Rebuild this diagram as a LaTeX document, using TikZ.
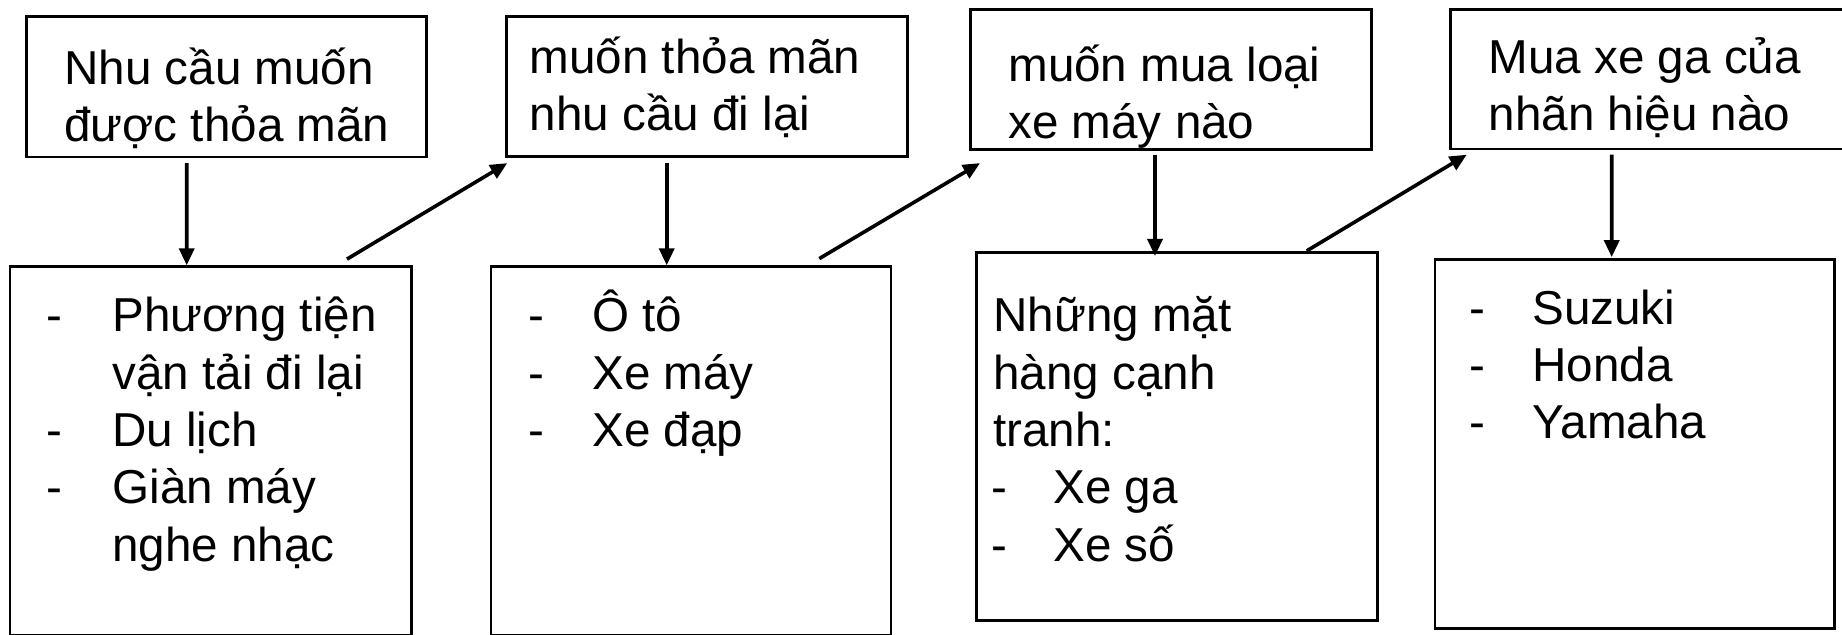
\documentclass[tikz,border=0pt]{standalone}
\usepackage{fontspec}
\setmainfont{Liberation Sans}
\usetikzlibrary{calc,arrows.meta}
\begin{document}
\begin{tikzpicture}[x=0.5pt,y=-0.5pt,
  box/.style={draw, line width=1.4pt, inner sep=0pt},
  txt/.style={anchor=base west, inner sep=0pt, font=\fontsize{23.8}{28.65}\selectfont},
  arr/.style={line width=1.8pt, -{Triangle[length=8.5pt,width=7.5pt]}}]
\useasboundingbox (0,0) rectangle (1842,634);
\fill[white] (0,0) rectangle (1842,634);
\clip (0,0) rectangle (1842,634);
% top boxes
\node[box, minimum width=200.15pt, minimum height=70.15pt] (A) at (226.55,86.85) {};
\node[box, minimum width=200.3pt, minimum height=70pt] (B) at (707,86.7) {};
\node[box, minimum width=200.5pt, minimum height=70pt] (C) at (1171.2,79.3) {};
\node[box, minimum width=200.5pt, minimum height=69.85pt] (E) at (1651.2,79.15) {};
% bottom boxes
\node[box, minimum width=200.85pt, minimum height=184.25pt] (D1) at (210.85,450.95) {};
\node[box, minimum width=200pt, minimum height=184.25pt] (D2) at (691,450.95) {};
\node[box, minimum width=200.3pt, minimum height=184.2pt] (D3) at (1177,436.5) {};
\node[box, minimum width=199.65pt, minimum height=184.4pt] (D4) at (1634.65,443.9) {};
% texts in top boxes
\node[txt] (A1) at (64,84) {Nhu cầu muốn};
\node[txt] (A2) at (64,141) {được thỏa mãn};
\node[txt] (B1) at (529.3,73.3) {muốn thỏa mãn};
\node[txt] (B2) at (529.3,130) {nhu cầu đi lại};
\node[txt] (C1) at (1008,81) {muốn mua loại};
\node[txt] (C2) at (1008,138.3) {xe máy nào};
\node[txt] (E1) at (1488.3,73.3) {Mua xe ga của};
\node[txt] (E2) at (1488.3,130) {nhãn hiệu nào};
% D1
\node[txt] (D1d1) at (46,331.7) {-};
\node[txt] (D1a) at (112,331.7) {Phương tiện};
\node[txt] (D1b) at (112,389) {vận tải đi lại};
\node[txt] (D1d2) at (46,446.3) {-};
\node[txt] (D1c) at (112,446.3) {Du lịch};
\node[txt] (D1d3) at (46,503.6) {-};
\node[txt] (D1e) at (112,503.6) {Giàn máy};
\node[txt] (D1f) at (112,561) {nghe nhạc};
% D2
\node[txt] (D2d1) at (528,331.7) {-};
\node[txt] (D2a) at (592,331.7) {Ô tô};
\node[txt] (D2d2) at (528,389) {-};
\node[txt] (D2b) at (592,389) {Xe máy};
\node[txt] (D2d3) at (528,446.3) {-};
\node[txt] (D2c) at (592,446.3) {Xe đạp};
% D3
\node[txt] (D3a) at (993,331.7) {Những mặt};
\node[txt] (D3b) at (993,389) {hàng cạnh};
\node[txt] (D3c) at (993,446.3) {tranh:};
\node[txt] (D3d1) at (991,503.6) {-};
\node[txt] (D3d) at (1053,503.6) {Xe ga};
\node[txt] (D3d2) at (991,561) {-};
\node[txt] (D3e) at (1053,561) {Xe số};
% D4
\node[txt] (D4d1) at (1469,324) {-};
\node[txt] (D4a) at (1532,324) {Suzuki};
\node[txt] (D4d2) at (1469,381.3) {-};
\node[txt] (D4b) at (1532,381.3) {Honda};
\node[txt] (D4d3) at (1469,438.6) {-};
\node[txt] (D4c) at (1532,438.6) {Yamaha};
% connectors
\draw[arr] ($(A.south)+(-39.85,4.7)$) -- ($(D1.north)+(-24.15,0)$);
\draw[arr] ($(D1.north)+(136.15,-6.2)$) -- ($(B.south)+(-199.7,5)$);
\draw[arr] ($(B.south)+(-40.3,5)$) -- ($(D2.north)+(-24.3,0)$);
\draw[arr] ($(D2.north)+(128.3,-6.7)$) -- ($(C.south)+(-191.2,12.4)$);
\draw[arr] ($(C.south)+(-16.2,4)$) -- ($(D3.north)+(-22,5)$);
\draw[arr] ($(D3.north)+(129.7,0)$) -- ($(E.south)+(-184.5,4.3)$);
\draw[arr] ($(E.south)+(-39.5,4.3)$) -- ($(D4.north)+(-22.95,-1)$);
\end{tikzpicture}
\end{document}
